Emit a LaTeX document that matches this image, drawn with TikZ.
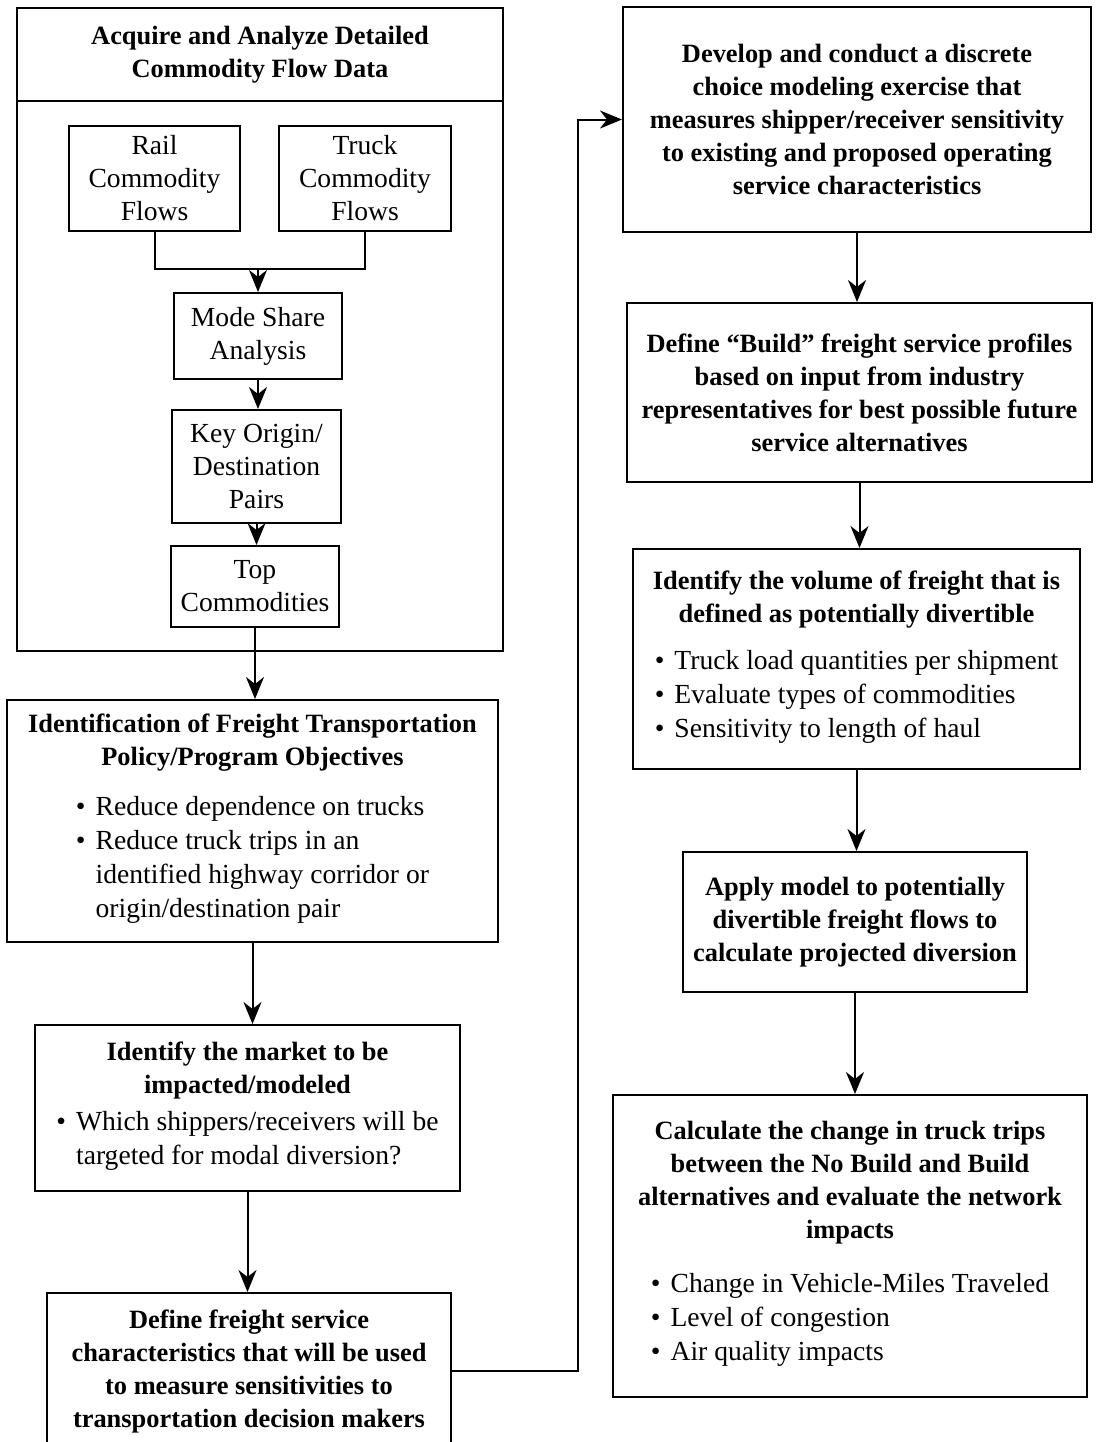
\documentclass[tikz,border=0pt]{standalone}
\usepackage{fontspec}
\setmainfont{Liberation Serif}
\usetikzlibrary{arrows.meta}

\newcommand{\ttl}{\fontsize{13.2}{16.5}\selectfont\bfseries}
\newcommand{\txt}{\fontsize{13.8}{16.5}\selectfont\mdseries}
\newcommand{\lst}{\fontsize{13.8}{17}\selectfont\mdseries}
\newcommand{\bul}{\textbullet}

\begin{document}
\begin{tikzpicture}[x=0.5pt,y=-0.5pt,
        box/.style={draw, line width=1pt, inner sep=0pt, align=center, font=\ttl},
        small/.style={box, font=\txt},
        arr/.style={-{Stealth[length=11pt,width=9pt,inset=3.5pt]}, line width=1pt}]
        \useasboundingbox (0,0) rectangle (1096,1442);

        \node[small, minimum width=243pt, minimum height=321.5pt] (acq) at (260,329.5) {};
        \node[font=\ttl, align=center] (acqtitle) at (260,55) {Acquire and Analyze Detailed\\Commodity Flow Data};
        \draw[line width=1pt] (acq.west |- 0,101) -- (acq.east |- 0,101);

        \node[small, minimum width=85.5pt, minimum height=52.5pt] (rail) at (154.5,178.5) {Rail\\Commodity\\Flows};
        \node[small, minimum width=86pt, minimum height=52.5pt] (truck) at (365,178.5) {Truck\\Commodity\\Flows};
        \node[small, minimum width=84pt, minimum height=43pt] (mode) at (258,336) {Mode Share\\Analysis};
        \node[small, minimum width=84.5pt, minimum height=56.5pt] (keyod) at (256.5,466.5) {Key Origin/\\Destination\\Pairs};
        \node[small, minimum width=84pt, minimum height=40.5pt] (topc) at (255,586.5) {Top\\Commodities};

        \node[box, minimum width=245.5pt, minimum height=121pt] (ident) at (252.5,821) {Identification of Freight Transportation\\Policy/Program Objectives\\[8.5pt]
                {\lst\begin{tabular}[t]{@{}l@{\hspace{5pt}}l@{}}\bul & Reduce dependence on trucks\\ \bul & Reduce truck trips in an\\ & identified highway corridor or\\ & origin/destination pair\end{tabular}}};

        \node[box, minimum width=212.5pt, minimum height=83pt] (market) at (247.5,1108) {Identify the market to be\\impacted/modeled\\[2pt]
                {\lst\begin{tabular}[t]{@{}l@{\hspace{5pt}}l@{}}\bul & Which shippers/receivers will be\\ & targeted for modal diversion?\end{tabular}}};

        \node[box, minimum width=202pt, minimum height=78pt] (define) at (249,1371) {Define freight service\\characteristics that will be used\\to measure sensitivities to\\transportation decision makers};

        \node[box, minimum width=234pt, minimum height=112.5pt] (develop) at (857,119.5) {Develop and conduct a discrete\\choice modeling exercise that\\measures shipper/receiver sensitivity\\to existing and proposed operating\\service characteristics};

        \node[box, minimum width=232.5pt, minimum height=89.5pt] (build) at (859.5,392.5) {Define ``Build'' freight service profiles\\based on input from industry\\representatives for best possible future\\service alternatives};

        \node[box, minimum width=223.5pt, minimum height=110pt] (volume) at (856.5,659) {Identify the volume of freight that is\\defined as potentially divertible\\[7pt]
                {\lst\begin{tabular}[t]{@{}l@{\hspace{5pt}}l@{}}\bul & Truck load quantities per shipment\\ \bul & Evaluate types of commodities\\ \bul & Sensitivity to length of haul\end{tabular}}};

        \node[box, minimum width=172pt, minimum height=70pt] (apply) at (855,922) {Apply model to potentially\\divertible freight flows to\\calculate projected diversion};

        \node[box, minimum width=237pt, minimum height=151pt] (calc) at (850,1246) {Calculate the change in truck trips\\between the No Build and Build\\alternatives and evaluate the network\\impacts\\[10.5pt]
                {\lst\begin{tabular}[t]{@{}l@{\hspace{5pt}}l@{}}\bul & Change in Vehicle-Miles Traveled\\ \bul & Level of congestion\\ \bul & Air quality impacts\end{tabular}}};

        \draw[line width=1pt] (rail.south) -- (rail.south |- 0,269) -| (truck.south);
        \draw[arr] (mode.north |- 0,269) -- (mode.north);
        \draw[arr] (mode.south) -- (mode.south |- keyod.north);
        \draw[arr] (keyod.south) -- (keyod.south |- topc.north);
        \draw[arr] (topc.south) -- (topc.south |- ident.north);
        \draw[arr] (ident.south) -- (ident.south |- market.north);
        \draw[arr] (market.south) -- (market.south |- define.north);
        \draw[arr] (define.east) -- ++(126,0) |- (develop.west);

        \draw[arr] (develop.south) -- (develop.south |- build.north);
        \draw[arr] (build.south) -- (build.south |- volume.north);
        \draw[arr] (volume.south) -- (volume.south |- apply.north);
        \draw[arr] (apply.south) -- (apply.south |- calc.north);
    \end{tikzpicture}
\end{document}
